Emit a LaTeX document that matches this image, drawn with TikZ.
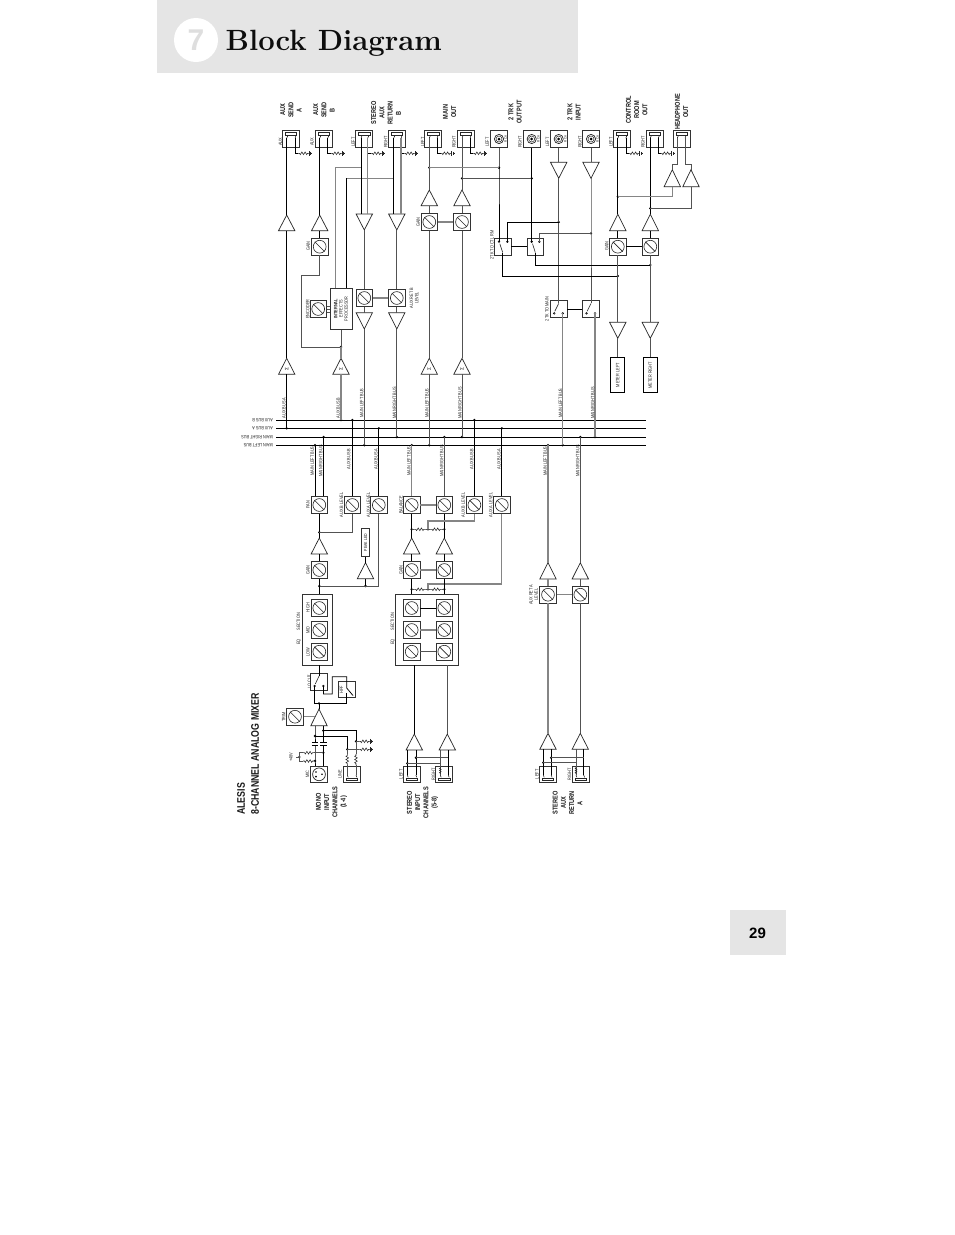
\documentclass[tikz,border=0pt]{standalone}
\usepackage{fontspec}
\usetikzlibrary{calc}
\newfontfamily\nf[FakeStretch=0.8]{Liberation Sans}
\newfontfamily\hf{Liberation Sans}
\definecolor{pagegray}{HTML}{E5E5E5}
\newcount\lblc
\tikzset{
  x=1pt,y=-1pt,
  bk/.style={line width=.75pt,draw=black},
  gm/.style={line width=.9pt,draw=black!68},
  gr/.style={line width=1.25pt,draw=black!48},
  bx/.style={draw=black!80,line width=.85pt,fill=white,inner sep=0pt},
  potbox/.style={bx,minimum size=16.5pt},
  potmark/.style={line width=.6pt,draw=black!85},
  tribox/.style={line width=.7pt,draw=black!85,line join=miter},
  dotn/.style={circle,fill=black,inner sep=0pt,minimum size=2.6pt},
  lab/.style={font=\nf\fontsize{4.8}{5.3}\selectfont,rotate=90,inner sep=0pt,text=black!88,align=center},
  hd/.style={font=\nf\bfseries\fontsize{7}{8.25}\selectfont,rotate=90,inner sep=0pt,align=center,text=black!90},
  meter/.style={draw=black,line width=1.3pt,fill=white,rotate=90,minimum width=35pt,minimum height=14pt,inner sep=0pt,font=\nf\fontsize{4.8}{5.3}\selectfont,text=black!88},
  resh/.pic={\draw[line width=.55pt,black!85] (0,0)--(1.5,0)--(2.3,1.3)--(3.9,-1.3)--(5.5,1.3)--(7.1,-1.3)--(8.7,1.3)--(9.5,0)--(11,0);},
  gndh/.pic={\draw[line width=.55pt,black!85] (0,-2.4)--(0,2.4) (1.3,-1.5)--(1.3,1.5) (2.6,-.7)--(2.6,.7);},
}
\newcommand\tl[4][lab]{\global\advance\lblc by 1 \node[#1] (l\the\lblc) at (#2,#3) {#4};}
\newcommand\dt[3]{\node[dotn] (#1) at (#2,#3) {};}
\newcommand\pot[3]{\node[potbox] (#1) at (#2,#3) {};
  \draw[potmark] (#1.center) circle[radius=6.4];
  \draw[potmark] ($(#1.center)+(-4.9,-4.9)$) -- ($(#1.center)+(4.9,4.9)$);}
\newcommand\tri[4]{\coordinate (#1-a) at (#2,#3); \coordinate (#1-b) at (#2,#4);
  \draw[tribox] ({#2-8.2},#4) -- (#2,#3) -- ({#2+8.2},#4) -- cycle;}
\newcommand\jack[6]{\node[bx,minimum width=17pt,minimum height=16.5pt] (#1) at (#2,#3) {};
  \draw[line width=.5pt,black!85] ([shift={(-5.7pt,#6*3.9pt)}]#1.center) rectangle ([shift={(5.7pt,#6*6.3pt)}]#1.center);
  \coordinate (#1-l) at ([xshift=#4pt,yshift=#6*.8pt]#1.center);
  \coordinate (#1-r) at ([xshift=#5pt,yshift=#6*.8pt]#1.center);
  \draw[line width=.5pt] (#1-l) -- ++(.9,{-#6*2.2}) (#1-r) -- ++(.9,{-#6*2.2});}
\newcommand\rca[3]{\node[bx,minimum width=17pt,minimum height=16.5pt] (#1) at (#2,#3) {};
  \draw[line width=.7pt,black!85] (#1.center) circle[radius=4.6];
  \draw[line width=.5pt,black!85] (#1.center) circle[radius=3];
  \fill (#1.center) circle[radius=1.5];
  \node[lab,font=\nf\fontsize{3.6}{4}\selectfont] (#1-t) at ([xshift=6.7pt]#1.center) {RCA};}
\newcommand\swa[5]{\node[potbox] (#1) at (#2,#3) {};
  \coordinate (#1-l) at ([shift={(#4pt,5pt)}]#1.center);
  \coordinate (#1-r) at ([shift={(#5pt,5pt)}]#1.center);
  \coordinate (#1-p) at ([shift={(0pt,-5.8pt)}]#1.center);
  \draw[line width=.6pt,black!85] (#1-p) -- ($(#1-l)+(.8,2)$);
  \draw[line width=.5pt,fill=white] (#1-l) circle[radius=.9] (#1-r) circle[radius=.9];}
\newcommand\swb[5]{\node[potbox] (#1) at (#2,#3) {};
  \coordinate (#1-l) at ([shift={(#4pt,-4.3pt)}]#1.center);
  \coordinate (#1-r) at ([shift={(#5pt,-4.3pt)}]#1.center);
  \coordinate (#1-p) at ([shift={(0pt,5.6pt)}]#1.center);
  \draw[line width=.6pt,black!85] (#1-p) -- ($(#1-l)+(.6,-2)$);
  \draw[line width=.5pt,fill=white] (#1-l) circle[radius=.9] (#1-r) circle[radius=.9];}
\newcommand\rg[4]{\coordinate (#1-a) at (#3,#4);
  \draw[bk,line width=.6pt] (#2) |- (#1-a);
  \pic at (#1-a) {resh};
  \pic at ({#3+11},#4) {gndh};}
\begin{document}
\begin{tikzpicture}
\useasboundingbox (0,0) rectangle (954,1235);
\fill[white] (0,0) rectangle (954,1235);
% page furniture
\fill[pagegray] (157,0) rectangle (578,73);
\fill[white] (196,40) circle[radius=22];
\node[font=\hf\bfseries\fontsize{30}{30}\selectfont,text=black!13,inner sep=0pt] (seven) at (196,40) {7};
\node[anchor=base west,inner sep=0pt,font=\bfseries\fontsize{29.3}{32}\selectfont\addfontfeature{FakeBold=2.2},text=black!95] (title) at (225.5,50) {Block Diagram};
\fill[pagegray] (730,910) rectangle (786,955);
\node[font=\hf\bfseries\fontsize{15}{15}\selectfont,inner sep=0pt] (pageno) at (757.5,933) {29};
% buses
\foreach \n/\yy/\t in {bB/420/AUX BUS B,bA/428.3/AUX BUS A,bR/437/MAIN RIGHT BUS,bL/445.2/MAIN LEFT BUS}{
  \coordinate (\n-w) at (276,\yy); \coordinate (\n-e) at (646,\yy);
  \draw[line width=.85pt] (\n-w) -- (\n-e);
  \node[lab,rotate=90,anchor=west] (\n-t) at (273,\yy) {\t};
}
% top jacks
\jack{jA}{290.7}{139}{-4}{4.3}{1}
\jack{jB}{323.5}{139}{-3.8}{4.2}{1}
\jack{jSL}{364.2}{139}{-3.2}{3.5}{1}
\jack{jSR}{396.5}{139}{-2.8}{4.5}{1}
\jack{jML}{433.2}{139}{-3.9}{3.8}{1}
\jack{jMR}{465.8}{139}{-3.8}{4.2}{1}
\jack{jCL}{622}{139}{-4.2}{3.8}{1}
\jack{jCR}{654.5}{139}{-4.2}{3.8}{1}
\jack{jH}{681.7}{139}{-4.4}{3.3}{1}
\rca{rOL}{499}{139}
\rca{rOR}{531.7}{139}
\rca{rIL}{558.7}{139}
\rca{rIR}{591}{139}
\rg{gA}{jA-r}{298}{153.3}
\rg{gB}{jB-r}{331}{153.3}
\rg{gSL}{jSL-r}{371}{153.3}
\rg{gSR}{jSR-r}{404}{153.3}
\rg{gML}{jML-r}{440.5}{153.3}
\rg{gMR}{jMR-r}{473}{153.3}
\rg{gCL}{jCL-r}{628.5}{153.3}
\rg{gCR}{jCR-r}{660.5}{153.3}
% triangles top half
\tri{tA}{286.7}{215}{230.7}
\tri{tB}{319.7}{215}{230.7}
\tri{tSL}{364.3}{230}{214}
\tri{tSR}{396.8}{230}{214}
\tri{tML}{429.3}{190}{205.7}
\tri{tMR}{462}{190}{205.7}
\tri{tHL}{672.3}{169.7}{186.7}
\tri{tHR}{691}{169.7}{186.7}
\tri{tIL}{558.7}{178.3}{162.3}
\tri{tIR}{591}{178.3}{162.3}
\tri{tCL}{617.8}{214.3}{230.7}
\tri{tCR}{650.3}{214.3}{230.7}
\tri{tRL}{364.3}{329}{312.7}
\tri{tRR}{396.8}{329}{312.7}
\tri{tMtL}{617.8}{338.3}{322.3}
\tri{tMtR}{650.3}{338.3}{322.3}
\tri{sA}{286.7}{358.3}{374.3}
\tri{sB}{341}{358.3}{374.3}
\tri{sML}{429.3}{358.3}{374.3}
\tri{sMR}{462}{358.3}{374.3}
\foreach \xx in {286.7,341,429.3,462}{\node[font=\nf\fontsize{4.8}{5}\selectfont,rotate=90,inner sep=0pt] at (\xx,368.8) {\hf Σ};}
% pots top half
\pot{pB}{319.7}{246.7}
\pot{pML}{429.3}{222}
\pot{pMR}{462}{222}
\pot{pCL}{617.8}{246.7}
\pot{pCR}{650.3}{246.7}
\pot{pEnc}{318.2}{309}
\pot{pRL}{364.3}{298}
\pot{pRR}{396.8}{298}
% processor
\node[bx,minimum width=22pt,minimum height=41pt] (proc) at (341,308.8) {};
\node[lab] (proct) at (341,308.8) {\bfseries INTERNAL\\EFFECTS\\PROCESSOR};
% switches
\swa{s1}{502.7}{246.7}{-3.7}{4.6}
\swa{s2}{535.3}{246.7}{-3.6}{4}
\swb{cd1}{558.7}{309}{-4.5}{4}
\swb{cd2}{591}{309}{-4.5}{4}
% meters
\node[meter] (mL) at (617.8,375.2) {METER LEFT};
\node[meter] (mR) at (650.3,375.2) {METER RIGHT};
% dots top half
\dt{dAa}{286.7}{428.3}
\dt{dBb}{341}{420}
\dt{dMLb}{364.3}{445.2}
\dt{dMRb}{396.8}{437}
\dt{dSLb}{429.3}{445.2}
\dt{dSRb}{462}{437}
\dt{dCDL}{562.7}{445.2}
\dt{dCDR}{595}{437}
\dt{dFx}{341}{347}
\dt{dT1}{429.3}{167.7}
\dt{dT2}{499}{167.7}
\dt{dT3}{462}{178.3}
\dt{dT4}{531.7}{178.3}
\dt{dI1}{558.7}{222}
\dt{dI2}{591}{233.3}
\dt{dC1}{617.8}{196.7}
\dt{dC2}{650.3}{208.3}
\dt{dC3}{617.8}{276}
\dt{dC4}{650.3}{265}
% connectors top half
\draw[bk] (jA-l) -- (tA-a) (tA-b) -- (sA-a) (sA-b) -- (dAa.center);
\draw[bk] (jB-l) -- (tB-a) (tB-b) -- (pB.north);
\coordinate (fB1) at (301.7,275);
\coordinate (fB2) at (319.7,275);
\draw[gm] (pB.south) -- (fB2) -- (fB1) |- (dFx.center);
\coordinate (yS1) at (361,167.7);
\coordinate (yS2) at (393.7,178.3);
\coordinate (pTL) at (335.7,288.3);
\coordinate (pTR) at (346.3,288.3);
\draw[gr] (yS1) -| (pTL);
\draw[gr] (yS2) -| (pTR);
\draw[bk] (pTR |- yS2) -- (pTR);
\draw[bk] (jSL-l) -- (jSL-l |- tSL-b);
\draw[gr] (jSL-r) -- (jSL-r |- tSL-b);
\draw[bk] (jSR-l) -- (jSR-l |- tSR-b);
\draw[gr] (jSR-r) -- (jSR-r |- tSR-b);
\draw[gm] (tSL-a) -- (pRL.north) (pRL.south) -- (tRL-b);
\draw[gm] (tSR-a) -- (pRR.north) (pRR.south) -- (tRR-b);
\draw[gr] (pRL.east) -- (pRR.west);
\draw[gm] (tRL-a) -- (dMLb.center);
\draw[gm] (tRR-a) -- (dMRb.center);
\draw[gm] (proc.south) -- (dFx.center);
\draw[gr] (dFx.center) -- (sB-a) (sB-b) -- (dBb.center);
\foreach \s in {-3,0,3}{\draw[gm,line width=.6pt] ([yshift=\s pt]pEnc.east) -- ([yshift=\s pt]pEnc.east -| proc.west);}
\draw[gm] (jML-l) -- (tML-a) (tML-b) -- (pML.north) (pML.south) -- (sML-a) (sML-b) -- (dSLb.center);
\draw[gm] (jMR-l) -- (tMR-a) (tMR-b) -- (pMR.north) (pMR.south) -- (sMR-a) (sMR-b) -- (dSRb.center);
\draw[gr] (pML.east) -- (pMR.west);
\draw[gr] (dT1.center) -- (dT2.center);
\draw[gm] (dT3.center) -- (dT4.center);
\draw[bk] (rOL.south) -- (dT2.center) -- (s1-l);
\draw[bk] (rOR.south) -- (dT4.center) -- (s2-l);
\draw[gm] (rIL.south) -- (tIL-b) (rIR.south) -- (tIR-b);
\draw[gm] (tIL-a) -- (dI1.center) -- (cd1-p);
\draw[gm] (tIR-a) -- (dI2.center) -- (cd2-p);
\draw[bk] (dI1.center) -| (s1-r);
\draw[gm] (dI2.center) -| (s2-r);
\draw[bk] (s1.east) -- (s2.west);
\draw[bk] (cd1.east) -- (cd2.west);
\draw[bk] (pCL.east) -- (pCR.west);
\draw[gr] (cd1-r) -- (cd1-r |- dCDL) ;
\draw[gr] (cd2-r) -- (cd2-r |- dCDR);
\draw[bk] (s1-p) |- (dC3.center);
\draw[bk] (s2-p) |- (dC4.center);
\draw[gm] (pCL.south) -- (dC3.center) -- (tMtL-b) (tMtL-a) -- (mL);
\draw[gm] (pCR.south) -- (dC4.center) -- (tMtR-b) (tMtR-a) -- (mR);
\draw[bk] (jCL-l) -- (dC1.center) -- (tCL-a) (tCL-b) -- (pCL.north);
\draw[bk] (jCR-l) -- (dC2.center) -- (tCR-a) (tCR-b) -- (pCR.north);
\coordinate (hl) at (672.3,164);
\coordinate (hr) at (691,164);
\draw[gm] (jH-l) |- (hl) -- (tHL-a);
\draw[gm] (jH-r) |- (hr) -- (tHR-a);
\coordinate (bh1) at (672.3,196.7);
\coordinate (bh2) at (691,208.3);
\draw[gr] (dC1.center) -- (bh1) -- (tHL-b);
\draw[gm] (dC2.center) -- (bh2) -- (tHR-b);
% mono channel
\pot{pPan}{319.3}{505}
\pot{pAbM}{352.3}{505}
\pot{pAaM}{378.8}{505}
\dt{d1}{315}{445.2}
\dt{d2}{323.6}{437}
\dt{d3}{352.3}{420}
\dt{d4}{378.8}{428.3}
\draw[bk] (d1.center) -- (d1 |- pPan.north);
\draw[bk] (d2.center) -- (d2 |- pPan.north);
\draw[bk] (d3.center) -- (pAbM.north);
\draw[bk] (d4.center) -- (pAaM.north);
\dt{dj1}{319.3}{532.3}
\dt{dj2}{319.3}{586}
\dt{dj3}{365.5}{586}
\tri{tMg}{319.3}{538}{554}
\tri{tLED}{365.5}{562.7}{578.7}
\pot{pGain}{319.3}{570}
\node[bx,rotate=90,minimum width=28pt,minimum height=8pt,font=\nf\fontsize{4.4}{5}\selectfont,text=black!88] (led) at (365.5,542.7) {PEAK LED};
\draw[bk] (pPan.south) -- (dj1.center) -- (tMg-a) (tMg-b) -- (pGain.north);
\draw[gm] (pAbM.south) |- (dj1.center);
\draw[gm] (pAaM.south) |- (dj2.center);
\draw[bk] (dj3.center) -- (tLED-b) (tLED-a) -- (led);
\node[bx,minimum width=29.6pt,minimum height=70.7pt] (eqM) at (317.5,629.7) {};
\draw[bk] (pGain.south) -- (dj2.center) -- (dj2 |- eqM.north);
\pot{pHi}{319.3}{608}
\pot{pMi}{319.3}{630}
\pot{pLo}{319.3}{651.7}
\swb{lc}{319}{681.7}{-4.3}{4.4}
\draw[bk] (lc-p |- eqM.south) -- (lc-p);
\node[bx,minimum size=16.5pt] (hpf) at (346.7,689.5) {};
\coordinate (h2) at (332.3,694);
\coordinate (h3) at (346.7,676.7);
\coordinate (hm) at (346.7,688);
\coordinate (hn) at (353,695.5);
\coordinate (ho) at (346.7,693);
\draw[bk] (lc-r) |- (h2) |- (h3) -- (hm) -- (hn);
\draw[bk] (hpf.south) -- (ho);
\dt{dj4}{319}{703.3}
\draw[bk] (lc-l) |- (dj4.center);
\draw[bk] (hpf.south) |- (dj4.center);
\tri{tP}{319}{709}{725.7}
\draw[bk] (dj4.center) -- (tP-a);
\pot{pTrim}{295}{716.7}
\coordinate (trimE) at (314.8,716.7);
\draw[gr] (pTrim.east) -- (trimE);
% input
\node[bx,minimum size=16.5pt] (xlr) at (319,774.3) {};
\draw[line width=.7pt,black!85] (xlr.center) circle[radius=6.4];
\fill (316,772) circle[radius=.9] (316,776.6) circle[radius=.9] (322,774.3) circle[radius=.9];
\jack{jLn}{351.7}{774.3}{-4.4}{4.3}{-1}
\dt{a1}{315}{736}
\dt{a2}{323.3}{730.7}
\dt{a3}{323.3}{752.7}
\dt{a4}{315}{761}
\dt{a5}{356}{741.3}
\dt{a6}{347.3}{749.3}
\coordinate (b1) at (315,725.7);
\coordinate (b2) at (323.3,725.7);
\draw[bk] (b1) -- (a1.center) -- (315,742.6) (315,745) -- (a4.center) -- (xlr.north -| a4);
\draw[bk] (b2) -- (a2.center) -- (323.3,742.6) (323.3,745) -- (a3.center) -- (xlr.north -| a3);
\draw[line width=.6pt] (311.8,742.6)--(318.2,742.6) (311.8,745)--(318.2,745) (320.1,742.6)--(326.5,742.6) (320.1,745)--(326.5,745);
\draw[bk] (a2.center) -| (a5.center);
\draw[bk] (a1.center) -| (a6.center);
\draw[gm] (a5.center) -- (356,754);
\draw[gm] (a6.center) -- (347.3,754);
\pic[rotate=-90] at (356,754) {resh};
\pic[rotate=-90] at (347.3,754) {resh};
\draw[gm] (356,765) -- (jLn-r);
\draw[gm] (347.3,765) -- (jLn-l);
\draw[gm,line width=.6pt] (a5.center) -- (359,741.3);
\draw[gm,line width=.6pt] (a6.center) -- (359,749.3);
\pic at (359,741.3) {resh};
\pic at (359,749.3) {resh};
\pic at (370,741.3) {gndh};
\pic at (370,749.3) {gndh};
\coordinate (v1) at (299.3,752.7);
\coordinate (v2) at (299.3,761);
\dt{v3}{299.3}{757}
\coordinate (v4) at (296,757);
\draw[gm,line width=.6pt] (v1) -- (v2) (v3.center) -- (v4);
\draw[gm,line width=.6pt] (v1) -- (303,752.7) (314,752.7) -- (a3.center);
\draw[gm,line width=.6pt] (v2) -- (303,761) (314,761) -- (a4.center);
\pic at (303,752.7) {resh};
\pic at (303,761) {resh};
% stereo channel
\pot{pBL}{411.7}{505}
\pot{pBR}{444.3}{505}
\pot{pAbS}{474.4}{505}
\pot{pAaS}{501.8}{505}
\dt{e1}{411.7}{445.2}
\dt{e2}{444.3}{437}
\dt{e3}{474.4}{420}
\dt{e4}{501.8}{428.3}
\draw[gr] (e1.center) -- (pBL.north);
\draw[gm] (e2.center) -- (pBR.north);
\draw[bk] (e3.center) -- (pAbS.north);
\draw[bk] (e4.center) -- (pAaS.north);
\draw[gr] (pBL.east) -- (pBR.west);
\tri{tSa}{411.7}{538}{554}
\tri{tSb}{444.3}{538}{554}
\pot{pGL}{411.7}{570}
\pot{pGR}{444.3}{570}
\draw[gr] (pGL.east) -- (pGR.west);
\dt{f1}{411.7}{529.3}
\dt{f2}{428}{529.3}
\dt{f3}{444.3}{529.3}
\coordinate (f4) at (428,521);
\draw[bk] (pBL.south) -- (f1.center) -- (tSa-a) (tSa-b) -- (pGL.north);
\draw[bk] (pBR.south) -- (f3.center) -- (tSb-a) (tSb-b) -- (pGR.north);
\draw[gm,line width=.6pt] (f1.center) -- (f2.center) -- (f3.center);
\fill[white] (414.3,527.5) rectangle (425.3,531) (430.6,527.5) rectangle (441.6,531);
\pic at (414.3,529.3) {resh};
\pic at (430.6,529.3) {resh};
\draw[gr] (f2.center) -- (f4) -| (pAbS.south);
\dt{g1}{411.7}{589.3}
\dt{g2}{428}{589.3}
\dt{g3}{444.3}{589.3}
\coordinate (g4) at (428,584);
\draw[gm,line width=.6pt] (g1.center) -- (g2.center) -- (g3.center);
\fill[white] (414.3,587.5) rectangle (425.3,591) (430.6,587.5) rectangle (441.6,591);
\pic at (414.3,589.3) {resh};
\pic at (430.6,589.3) {resh};
\draw[gr] (g2.center) -- (g4) -| (pAaS.south);
\node[bx,minimum width=62.6pt,minimum height=70.7pt] (eqS) at (427,629.7) {};
\draw[bk] (pGL.south) -- (g1.center) -- (g1 |- eqS.north);
\draw[bk] (pGR.south) -- (g3.center) -- (g3 |- eqS.north);
\pot{q1}{411.7}{608}
\pot{q2}{444.3}{608}
\pot{q3}{411.7}{630}
\pot{q4}{444.3}{630}
\pot{q5}{411.7}{651.7}
\pot{q6}{444.3}{651.7}
\draw[bk] (q1.east) -- (q2.west);
\draw[gr] (q3.east) -- (q4.west);
\draw[gm] (q5.east) -- (q6.west);
\tri{tUa}{414.3}{734}{750}
\tri{tUb}{447.3}{734}{750}
\draw[bk] (eqS.south -| tUa-a) -- (tUa-a);
\draw[gm] (eqS.south -| tUb-a) -- (tUb-a);
\jack{jUL}{412}{774.3}{-4.7}{3.9}{-1}
\jack{jUR}{444.3}{774.3}{-4}{4}{-1}
\draw[bk] (jUL-l) -- (jUL-l |- tUa-b);
\draw[bk] (jUL-r) -- (jUL-r |- tUa-b);
\draw[gm] (jUR-l) -- (jUR-l |- tUb-b);
\draw[bk] (jUR-r) -- (jUR-r |- tUb-b);
\dt{k1}{407.3}{763.3}
\dt{k2}{415.9}{757.7}
\draw[gm,line width=.7pt] (k1.center) -- (k1 -| jUR-l);
\draw[gm,line width=.7pt] (k2.center) -- (k2 -| jUR-r);
\pic[rotate=-90,scale=.65] at (440.3,767) {resh};
% aux return A
\pot{pRa}{548}{594.7}
\pot{pRb}{580.3}{594.7}
\tri{tVa}{548}{562.7}{579}
\tri{tVb}{580.3}{562.7}{579}
\dt{m1}{548}{445.2}
\dt{m2}{580.3}{437}
\draw[gr] (m1.center) -- (tVa-a) (tVa-b) -- (pRa.north);
\draw[gm] (m2.center) -- (tVb-a) (tVb-b) -- (pRb.north);
\draw[gr] (pRa.east) -- (pRb.west);
\tri{tXa}{548}{733.3}{749.3}
\tri{tXb}{580.3}{733.3}{749.3}
\draw[gr] (pRa.south) -- (tXa-a);
\draw[gm] (pRb.south) -- (tXb-a);
\jack{jXL}{547.7}{774.3}{-4.4}{3.5}{-1}
\jack{jXR}{580.5}{774.3}{-4.5}{3.2}{-1}
\draw[bk] (jXL-l) -- (jXL-l |- tXa-b);
\draw[bk] (jXL-r) -- (jXL-r |- tXa-b);
\draw[gm] (jXR-l) -- (jXR-l |- tXb-b);
\draw[bk] (jXR-r) -- (jXR-r |- tXb-b);
\dt{n1}{543.3}{762.7}
\dt{n2}{551.2}{757.7}
\draw[gm,line width=.7pt] (n1.center) -- (n1 -| jXR-l);
\draw[gm,line width=.7pt] (n2.center) -- (n2 -| jXR-r);
\pic[rotate=-90,scale=.65] at (576,767) {resh};
% headings
\tl[hd]{291}{110}{AUX\\SEND\\A}
\tl[hd]{324}{110}{AUX\\SEND\\B}
\tl[hd]{386}{113}{STEREO\\AUX\\RETURN\\B}
\tl[hd]{449.5}{112}{MAIN\\OUT}
\tl[hd]{515}{112}{2 TRK\\OUTPUT}
\tl[hd]{574}{112}{2 TRK\\INPUT}
\tl[hd]{636.7}{110}{CONTROL\\ROOM\\OUT}
\tl[hd]{681.5}{112}{HEADPHONE\\OUT}
\tl[hd]{331.5}{802}{MONO\\INPUT\\CHANNELS\\(1-4)}
\tl[hd]{422.5}{802.5}{STEREO\\INPUT\\CHANNELS\\(5-8)}
\tl[hd]{567.5}{803}{STEREO\\AUX\\RETURN\\A}
\node[rotate=90,anchor=west,inner sep=0pt,font=\nf\bfseries\fontsize{11}{14}\selectfont,text=black!90] (brand1) at (241,815) {ALESIS};
\node[rotate=90,anchor=west,inner sep=0pt,font=\nf\bfseries\fontsize{11}{14}\selectfont,text=black!90] (brand2) at (255,815) {8-CHANNEL ANALOG MIXER};
% small labels
\tl{280.5}{142}{AUX}
\tl{312}{142}{AUX}
\tl{353.3}{142}{LEFT}
\tl{385.7}{142}{RIGHT}
\tl{422.7}{142}{LEFT}
\tl{454}{142}{RIGHT}
\tl{487.3}{142}{LEFT}
\tl{520}{142}{RIGHT}
\tl{547.5}{142}{LEFT}
\tl{580}{142}{RIGHT}
\tl{611}{142}{LEFT}
\tl{643}{142}{RIGHT}
\tl{308.3}{246}{GAIN}
\tl{418.3}{222}{GAIN}
\tl{606.7}{246}{GAIN}
\tl{307.7}{309}{ENCODER}
\tl{414}{298}{AUX RET B\\LEVEL}
\tl{492}{245}{2TK TO CTL RM}
\tl{547}{309}{2TK TO MAIN}
\tl{284}{408}{AUX BUS A}
\tl{338.3}{408}{AUX BUS B}
\tl{361.7}{403}{MAIN LEFT BUS}
\tl{394.5}{403}{MAIN RIGHT BUS}
\tl{427}{403}{MAIN LEFT BUS}
\tl{460}{403}{MAIN RIGHT BUS}
\tl{560.5}{403}{MAIN LEFT BUS}
\tl{592.7}{403}{MAIN RIGHT BUS}
\tl{312.3}{461}{MAIN LEFT BUS}
\tl{320.7}{461}{MAIN RIGHT BUS}
\tl{348.7}{459}{AUX BUS B}
\tl{376}{459}{AUX BUS A}
\tl{409}{461}{MAIN LEFT BUS}
\tl{441.7}{461}{MAIN RIGHT BUS}
\tl{471.7}{459}{AUX BUS B}
\tl{499}{459}{AUX BUS A}
\tl{545.3}{461}{MAIN LEFT BUS}
\tl{577.7}{461}{MAIN RIGHT BUS}
\tl{308}{505}{PAN}
\tl{341.5}{505}{AUX B LEVEL}
\tl{368.5}{505}{AUX A LEVEL}
\tl{401}{505}{BALANCE}
\tl{463.3}{505}{AUX B LEVEL}
\tl{490.7}{505}{AUX A LEVEL}
\tl{308}{570}{GAIN}
\tl{401}{570}{GAIN}
\tl{533.5}{594.7}{AUX RET A\\LEVEL}
\tl{299}{629}{EQ\hspace{9pt}SECTION}
\tl{393}{629}{EQ\hspace{9pt}SECTION}
\tl{308}{608}{HIGH}
\tl{308}{630}{MID}
\tl{308}{652}{LOW}
\tl{309.5}{681.7}{LO CUT}
\tl{341.5}{689.5}{HPF}
\tl{283.7}{716.7}{TRIM}
\tl{291}{757}{+48V}
\tl{307.5}{774.3}{MIC}
\tl{340}{774.3}{LINE}
\tl{401}{774.3}{LEFT}
\tl{433.5}{774.3}{RIGHT}
\tl{537}{774.3}{LEFT}
\tl{569.5}{774.3}{RIGHT}
\end{tikzpicture}
\end{document}
